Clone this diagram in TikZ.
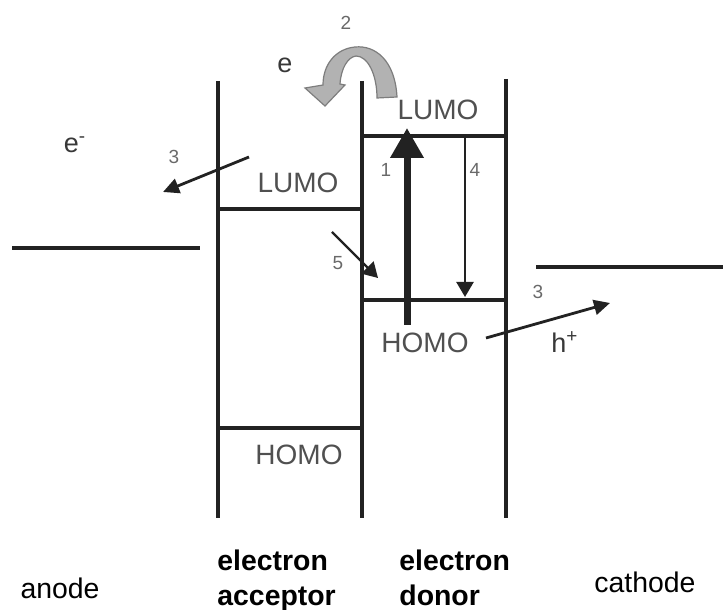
\documentclass[tikz,border=0pt]{standalone}
\usepackage{fontspec}
\setmainfont{Liberation Sans}
\usetikzlibrary{arrows.meta, positioning}
\definecolor{wallgray}{RGB}{34, 34, 34}
\definecolor{orbgray}{RGB}{80, 80, 80}
\definecolor{numgray}{RGB}{105, 105, 105}
\definecolor{bendfill}{RGB}{178, 178, 178}
\definecolor{benddraw}{RGB}{125, 125, 125}

\begin{document}
\begin{tikzpicture}[x=0.5pt, y=0.5pt,
    wall/.style={line width=2pt, wallgray},
    level/.style={line width=1.7pt, wallgray},
    orb/.style={font=\fontsize{14}{16}\selectfont, text=orbgray, inner sep=0pt},
    num/.style={font=\fontsize{9.5}{11}\selectfont, text=numgray, inner sep=0pt},
    carrier/.style={font=\fontsize{13.5}{15}\selectfont, text=wallgray!90, inner sep=0pt},
    side/.style={font=\fontsize{14.2}{17.5}\selectfont, align=left, inner sep=0pt},
    layer/.style={side, anchor=north west, font=\fontsize{14.2}{17.5}\selectfont\bfseries},
    arr/.style={-{Triangle[length=8pt, width=7.5pt]}, line width=1.4pt, wallgray},
    thin/.style={-{Triangle[length=7.5pt, width=8.5pt]}, line width=1.2pt, wallgray},
    excite/.style={-{Triangle[length=15pt, width=16pt]}, line width=3.5pt, wallgray},
]
\useasboundingbox (0,0) rectangle (723,610);

\draw[wall] (218,529) -- (218,92);
\draw[wall] (362,529) -- (362,92);
\draw[wall] (506,531) -- (506,92);

\draw[level] (218,401) -- (362,401);
\draw[level] (218,182) -- (362,182);
\draw[level] (362,474) -- (506,474);
\draw[level] (362,310) -- (506,310);
\draw[level] (12,362) -- (200,362);
\draw[level] (536,343) -- (723,343);

\node[orb] (accL) at (298,427) {LUMO};
\node[orb] (accH) at (299,155) {HOMO};
\node[orb] (donL) at (438,500) {LUMO};
\node[orb] (donH) at (425,267) {HOMO};

\coordinate (exA) at (407,285);
\coordinate (exB) at (407,482);
\coordinate (reA) at (465,474);
\coordinate (reB) at (465,313);
\coordinate (hopA) at (332,378);
\coordinate (hopB) at (378,332);
\coordinate (eoutA) at (249,453);
\coordinate (eoutB) at (163,418);
\coordinate (houtA) at (486,272);
\coordinate (houtB) at (610,307);

\draw[excite] (exA) -- (exB);
\draw[thin] (reA) -- (reB);
\draw[thin] (hopA) -- (hopB);
\draw[arr] (eoutA) -- (eoutB);
\draw[arr] (houtA) -- (houtB);

\draw[fill=bendfill, draw=benddraw, line width=0.6pt]
  (377,512) -- (397,513) .. controls (395,550) and (375,565) .. (355,563)
  .. controls (335,561) and (323,545) .. (323,525) -- (305,522) -- (325,504)
  -- (345,525) -- (340,526) .. controls (341,542) and (348,553) .. (356,554)
  .. controls (368,554) and (377,535) .. (377,512) -- cycle;

\node[num] (n1) at (386,440) {1};
\node[num] (n2) at (346,587) {2};
\node[num] (n3a) at (174,453) {3};
\node[num] (n3b) at (538,318) {3};
\node[num] (n4) at (475,440) {4};
\node[num] (n5) at (338,347) {5};

\node[carrier] (eb) at (285,545) {e};
\node[carrier] (em) at (75,465) {e\textsuperscript{-}};
\node[carrier] (hp) at (565,268) {h\textsuperscript{+}};

\node[side] (anode) at (60,22) {anode};
\node[layer] (acc) at (217,60) {electron\\acceptor};
\node[layer] (don) at (399,60) {electron\\donor};
\node[side] (cathode) at (645,28) {cathode};

\end{tikzpicture}
\end{document}
